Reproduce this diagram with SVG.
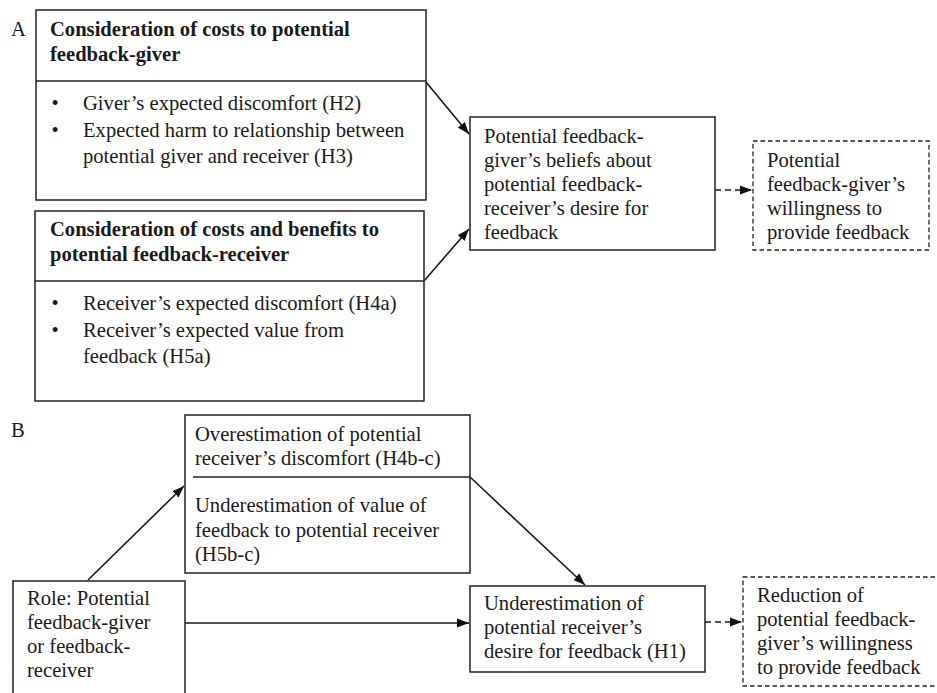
<svg xmlns="http://www.w3.org/2000/svg" width="937" height="693" viewBox="0 0 937 693">
<style>
text{font-family:"Liberation Serif","Times New Roman",serif;font-size:20.6px;fill:#1a1a1a}
.b{font-weight:bold}
.box{fill:#fff;stroke:#222;stroke-width:1.5}
.dbox{fill:#fff;stroke:#222;stroke-width:1.3;stroke-dasharray:4.5 3}
.ln{stroke:#222;stroke-width:1.5;fill:none}
.ar{stroke:#1a1a1a;stroke-width:1.6;fill:none;marker-end:url(#ah)}
.da{stroke:#1a1a1a;stroke-width:1.6;fill:none;stroke-dasharray:6 4;marker-end:url(#ah)}
.bul{text-anchor:middle}
</style>
<defs>
<marker id="ah" viewBox="0 0 12 10" refX="12" refY="5" markerWidth="12" markerHeight="10" markerUnits="userSpaceOnUse" orient="auto">
<path d="M0,0.5 L12,5 L0,9.5 Z" fill="#111"/>
</marker>
</defs>
<rect width="937" height="693" fill="#fff"/>
<text x="11" y="36">A</text>
<text x="11" y="437">B</text>
<g id="connectors">
<line class="ar" x1="426" y1="82" x2="469" y2="134"/>
<line class="ar" x1="424" y1="281" x2="469" y2="229"/>
<line class="da" x1="715" y1="190" x2="752" y2="190"/>
<line class="ar" x1="88" y1="580" x2="184" y2="486"/>
<line class="ar" x1="470" y1="477" x2="585" y2="585"/>
<line class="ar" x1="185" y1="623" x2="469" y2="623"/>
<line class="da" x1="705" y1="622" x2="742" y2="622"/>
</g>
<g id="costsGiver">
<rect class="box" x="36" y="10" width="390" height="190"/>
<line class="ln" x1="36" y1="81" x2="426" y2="81"/>
<text class="b" x="50" y="36">Consideration of costs to potential</text>
<text class="b" x="50" y="61">feedback-giver</text>
<text class="bul" x="55" y="110">•</text>
<text x="83" y="110">Giver’s expected discomfort (H2)</text>
<text class="bul" x="55" y="137">•</text>
<text x="83" y="137">Expected harm to relationship between</text>
<text x="83" y="163">potential giver and receiver (H3)</text>
</g>
<g id="costsReceiver">
<rect class="box" x="35" y="211" width="389" height="190"/>
<line class="ln" x1="35" y1="281" x2="424" y2="281"/>
<text class="b" x="50" y="236">Consideration of costs and benefits to</text>
<text class="b" x="50" y="261">potential feedback-receiver</text>
<text class="bul" x="55" y="310">•</text>
<text x="83" y="310">Receiver’s expected discomfort (H4a)</text>
<text class="bul" x="55" y="337">•</text>
<text x="83" y="337">Receiver’s expected value from</text>
<text x="83" y="363">feedback (H5a)</text>
</g>
<g id="beliefs">
<rect class="box" x="470" y="117" width="245" height="133"/>
<text x="484" y="143">Potential feedback-</text>
<text x="484" y="167">giver’s beliefs about</text>
<text x="484" y="191">potential feedback-</text>
<text x="484" y="215">receiver’s desire for</text>
<text x="484" y="239">feedback</text>
</g>
<g id="willingness">
<rect class="dbox" x="753" y="141" width="176" height="109"/>
<text x="767" y="167">Potential</text>
<text x="767" y="191">feedback-giver’s</text>
<text x="767" y="215">willingness to</text>
<text x="767" y="239">provide feedback</text>
</g>
<g id="misestimation">
<rect class="box" x="185" y="415" width="285" height="158"/>
<line class="ln" x1="193" y1="477" x2="470" y2="477"/>
<text x="195" y="441">Overestimation of potential</text>
<text x="195" y="465">receiver’s discomfort (H4b-c)</text>
<text x="195" y="512">Underestimation of value of</text>
<text x="195" y="537">feedback to potential receiver</text>
<text x="195" y="561">(H5b-c)</text>
</g>
<g id="role">
<rect class="box" x="13" y="581" width="172" height="130"/>
<text x="27" y="605">Role: Potential</text>
<text x="27" y="629">feedback-giver</text>
<text x="27" y="653">or feedback-</text>
<text x="27" y="677">receiver</text>
</g>
<g id="underestimation">
<rect class="box" x="470" y="586" width="235" height="86"/>
<text x="484" y="610">Underestimation of</text>
<text x="484" y="634">potential receiver’s</text>
<text x="484" y="658">desire for feedback (H1)</text>
</g>
<g id="reduction">
<rect class="dbox" x="743" y="577" width="210" height="109"/>
<text x="757" y="602">Reduction of</text>
<text x="757" y="626">potential feedback-</text>
<text x="757" y="650">giver’s willingness</text>
<text x="757" y="674">to provide feedback</text>
</g>
</svg>
